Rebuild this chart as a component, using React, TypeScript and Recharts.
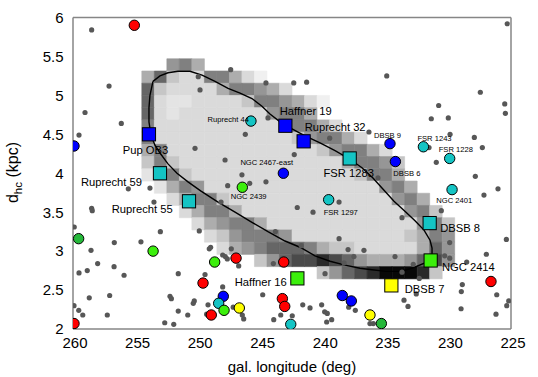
import React from 'react';
import { ScatterChart, Scatter, XAxis, YAxis, ReferenceArea, ReferenceLine } from 'recharts';

const xTicks = [260, 255, 250, 245, 240, 235, 230, 225];
const yTicks = [2, 2.5, 3, 3.5, 4, 4.5, 5, 5.5, 6];

// field stars [gal. longitude, d_hc]
const fieldStars: [number, number][] = [
  [258.51, 5.84], [257.12, 5.12], [259.04, 4.78], [256.14, 4.64], [259.52, 4.49],
  [247.4, 5.33], [249.99, 5.24], [249.85, 5.07], [244.58, 5.16], [244.42, 4.71],
  [246.23, 4.5], [250.25, 4.32], [247.85, 4.17], [246.5, 3.98], [247.64, 3.84],
  [245.88, 3.87], [244.58, 3.89], [255.58, 3.8], [253.85, 3.81], [225.3, 5.92],
  [234.93, 5.25], [242.36, 5.16], [241.33, 5.17], [227.45, 5.04], [230.78, 4.87],
  [225.5, 4.89], [225.45, 4.77], [231.37, 4.7], [230.01, 4.71], [236.35, 4.53],
  [239.49, 4.45], [227.93, 4.46], [227.29, 4.33], [231.55, 4.33], [229.87, 4.5],
  [230.97, 4.14], [242.32, 4.24], [227.85, 3.96], [226.04, 3.8], [235.63, 3.94],
  [258.51, 3.55], [258.46, 3.52], [259.9, 3.31], [253.02, 3.25], [249.91, 3.26],
  [248.17, 3.63], [256.7, 3.11], [254.57, 3.12], [258.56, 3.01], [249.11, 3.03],
  [249.0, 3.05], [247.35, 3.03], [258.03, 2.84], [256.72, 2.8], [258.86, 2.75],
  [259.52, 2.72], [255.92, 2.69], [251.59, 2.71], [249.45, 2.7], [248.04, 2.95],
  [247.83, 2.93], [247.67, 2.9], [248.04, 2.54], [252.25, 2.42], [252.14, 2.39],
  [257.07, 2.43], [258.7, 2.4], [250.31, 2.36], [250.39, 2.33], [259.92, 2.3],
  [259.54, 2.24], [259.22, 2.18], [257.26, 2.18], [251.59, 2.23], [250.83, 2.18],
  [249.21, 2.31], [247.2, 2.28], [249.32, 2.19], [246.36, 2.13], [246.47, 2.18],
  [252.67, 2.08], [251.95, 2.06], [244.84, 2.44], [227.16, 3.72], [230.57, 3.52],
  [225.37, 3.15], [226.97, 2.96], [229.9, 3.11], [228.54, 2.86], [229.9, 2.91],
  [230.3, 2.94], [238.74, 3.63], [240.82, 3.5], [242.08, 3.56], [233.71, 3.43],
  [238.74, 3.16], [238.02, 3.02], [236.75, 3.01], [237.55, 2.93], [234.27, 2.93],
  [243.83, 3.25], [241.76, 3.07], [239.86, 2.71], [233.71, 2.73], [232.33, 2.65],
  [228.89, 2.57], [228.97, 2.48], [226.14, 2.44], [232.57, 2.45], [233.55, 2.37],
  [233.23, 2.29], [225.18, 2.36], [225.34, 2.3], [228.99, 2.26], [226.2, 2.19],
  [241.64, 2.31], [241.06, 2.27], [240.13, 2.31], [239.89, 2.22], [239.68, 2.2],
  [237.97, 2.28], [237.44, 2.24], [239.33, 2.12], [239.73, 2.09], [242.48, 2.17],
  [243.4, 2.18], [243.96, 2.12], [236.27, 2.07], [236.0, 2.07], [253.53, 3.63],
  [246.76, 2.81], [243.99, 2.84], [238.34, 2.85], [232.81, 2.83],
];

type Cl = { lon: number; d: number; name?: string };

const redClusters: Cl[] = [
  { lon: 255.1, d: 5.9 }, { lon: 246.97, d: 2.91 }, { lon: 249.61, d: 2.59 },
  { lon: 248.95, d: 2.18 }, { lon: 259.92, d: 2.07 }, { lon: 243.16, d: 2.86 },
  { lon: 243.27, d: 2.39 }, { lon: 243.08, d: 2.29 }, { lon: 226.6, d: 2.61 },
];
const blueClusters: Cl[] = [
  { lon: 259.92, d: 4.35 }, { lon: 243.19, d: 4.0, name: 'NGC 2467-east' },
  { lon: 234.67, d: 4.38, name: 'DBSB 9' }, { lon: 234.24, d: 4.15, name: 'DBSB 6' },
  { lon: 247.99, d: 2.42 }, { lon: 238.48, d: 2.43 }, { lon: 237.76, d: 2.36 },
];
const cyanClusters: Cl[] = [
  { lon: 245.78, d: 4.67, name: 'Ruprecht 44' }, { lon: 239.57, d: 3.66, name: 'FSR 1297' },
  { lon: 232.0, d: 4.34, name: 'FSR 1243' }, { lon: 229.9, d: 4.19, name: 'FSR 1228' },
  { lon: 229.71, d: 3.79, name: 'NGC 2401' }, { lon: 248.36, d: 2.33 }, { lon: 242.6, d: 2.06 },
];
const limeClusters: Cl[] = [
  { lon: 246.47, d: 3.82, name: 'NGC 2439' }, { lon: 253.6, d: 3.0 },
  { lon: 248.68, d: 2.86 }, { lon: 247.93, d: 2.24 },
];
const greenClusters: Cl[] = [{ lon: 259.55, d: 3.16 }, { lon: 235.36, d: 2.07 }];
const yellowClusters: Cl[] = [{ lon: 246.71, d: 2.27 }, { lon: 236.27, d: 2.18 }];

const blueSquares: Cl[] = [
  { lon: 253.93, d: 4.5, name: 'Pup OB3' }, { lon: 243.03, d: 4.61, name: 'Haffner 19' },
  { lon: 241.57, d: 4.41, name: 'Ruprecht 32' },
];
const cyanSquares: Cl[] = [
  { lon: 253.05, d: 4.0, name: 'Ruprecht 59' }, { lon: 250.73, d: 3.64, name: 'Ruprecht 55' },
  { lon: 237.89, d: 4.19, name: 'FSR 1283' }, { lon: 231.5, d: 3.36, name: 'DBSB 8' },
];
const limeSquares: Cl[] = [
  { lon: 231.42, d: 2.88, name: 'NGC 2414' }, { lon: 242.07, d: 2.65, name: 'Haffner 16' },
];
const yellowSquares: Cl[] = [{ lon: 234.56, d: 2.56, name: 'DBSB 7' }];

// 2D density map: bin centres in longitude, bin rows in distance (top to bottom)
const heatLonCenters = [254, 253, 252, 251, 250, 249, 248, 247, 246, 245, 244, 243, 242, 241, 240, 239, 238, 237, 236, 235, 234, 233, 232, 231, 230];
const heatTopD = 5.47;
const heatStepD = 0.157;
const heatRows = [
  '..675....................',
  '5843377531...............',
  '843333577653.............',
  '832233334776531..........',
  '83233333336775...........',
  '7333333333367753.........',
  '733333333333467753.......',
  '57333333333333467753.....',
  '474333333333333357764....',
  '257433333333333334775....',
  '.257633333333333333675...',
  '..357743333333333333675..',
  '...357753333333333333674.',
  '....356775333333333333674',
  '.....34677763333333334576',
  '......3567888754433333586',
  '.........46899A9865556896',
  '..............4689ABBBA4.',
];
const heatGreys: Record<string, string> = {
  '1': '#f0f0f0', '2': '#e4e4e4', '3': '#dadada', '4': '#c6c6c6', '5': '#adadad',
  '6': '#969696', '7': '#808080', '8': '#666666', '9': '#4a4a4a', 'A': '#2a2a2a', 'B': '#080808',
};

// contour of the fitted region [lon, d]
const contour: [number, number][] = [
  [253.61, 5.18], [253.05, 5.25], [252.41, 5.29], [251.61, 5.31], [250.65, 5.31],
  [249.69, 5.26], [248.65, 5.18], [247.61, 5.09], [246.65, 5.03], [245.7, 4.96],
  [244.9, 4.86], [244.26, 4.76], [243.3, 4.64], [242.5, 4.57], [241.46, 4.48],
  [240.26, 4.39], [239.06, 4.29], [237.87, 4.18], [236.91, 4.07], [236.03, 3.94],
  [235.31, 3.81], [234.35, 3.64], [233.39, 3.5], [232.67, 3.39], [231.95, 3.27],
  [231.47, 3.14], [231.31, 3.04], [231.31, 2.95], [231.87, 2.85], [232.91, 2.78],
  [233.87, 2.74], [234.99, 2.74], [236.11, 2.76], [237.07, 2.78], [238.26, 2.82],
  [239.46, 2.87], [240.66, 2.94], [241.86, 3.05], [243.06, 3.13], [244.42, 3.25],
  [245.7, 3.37], [247.05, 3.5], [248.41, 3.63], [249.77, 3.77], [250.81, 3.89],
  [251.69, 4.0], [252.41, 4.12], [253.05, 4.26], [253.45, 4.36], [253.77, 4.49],
  [253.93, 4.66], [253.93, 4.84], [253.85, 5.0], [253.61, 5.18],
];

const labelPlacement: Record<string, { dx: number; dy: number; anchor: 'start' | 'middle' | 'end'; size: number }> = {
  'Pup OB3': { dx: -3.5, dy: 15.7, anchor: 'middle', size: 11.2 },
  'Ruprecht 59': { dx: -18, dy: 8.7, anchor: 'end', size: 11.2 },
  'Ruprecht 55': { dx: -16.3, dy: 7.4, anchor: 'end', size: 11.2 },
  'Haffner 19': { dx: -5.6, dy: -14.3, anchor: 'start', size: 11.2 },
  'Ruprecht 32': { dx: 1, dy: -14.3, anchor: 'start', size: 11.2 },
  'FSR 1283': { dx: -1, dy: 14.6, anchor: 'middle', size: 11.2 },
  'DBSB 8': { dx: 10.6, dy: 5, anchor: 'start', size: 11.2 },
  'NGC 2414': { dx: 11.3, dy: 6.3, anchor: 'start', size: 11.2 },
  'DBSB 7': { dx: 13.4, dy: 4, anchor: 'start', size: 11.2 },
  'Haffner 16': { dx: -10.6, dy: 3.7, anchor: 'end', size: 11.2 },
  'Ruprecht 44': { dx: -2, dy: -2, anchor: 'end', size: 7.6 },
  'NGC 2467-east': { dx: -16.6, dy: -11, anchor: 'middle', size: 7.6 },
  'NGC 2439': { dx: -11.6, dy: 9.7, anchor: 'start', size: 7.6 },
  'FSR 1297': { dx: -5, dy: 12.3, anchor: 'start', size: 7.6 },
  'DBSB 9': { dx: -16, dy: -8.3, anchor: 'start', size: 7.6 },
  'DBSB 6': { dx: -2, dy: 11.6, anchor: 'start', size: 7.6 },
  'FSR 1243': { dx: -6, dy: -8.4, anchor: 'start', size: 7.6 },
  'FSR 1228': { dx: -11, dy: -8.7, anchor: 'start', size: 7.6 },
  'NGC 2401': { dx: -15.7, dy: 11, anchor: 'start', size: 7.6 },
};

const FONT = '"Liberation Sans", Arial, Helvetica, sans-serif';
const FRAME = '#868686';

const toXY = (arr: Cl[]) => arr.map((c) => ({ x: c.lon, y: c.d, name: c.name }));

const heatCells: { x1: number; x2: number; y1: number; y2: number; fill: string }[] = [];
heatRows.forEach((row, r) => {
  row.split('').forEach((ch, c) => {
    if (ch === '.') return;
    const lon = heatLonCenters[c];
    heatCells.push({
      x1: lon + 0.5,
      x2: lon - 0.5,
      y1: heatTopD - (r + 1) * heatStepD,
      y2: heatTopD - r * heatStepD,
      fill: heatGreys[ch],
    });
  });
});

const circleShape = (color: string) => (p: any) => (
  <circle cx={p.cx} cy={p.cy} r={5.2} fill={color} stroke="#000" strokeWidth={1} />
);
const squareShape = (color: string) => (p: any) => (
  <rect x={p.cx - 6.6} y={p.cy - 6.6} width={13.2} height={13.2} fill={color} stroke="#000" strokeWidth={1} />
);
const dotShape = (p: any) => <circle cx={p.cx} cy={p.cy} r={2.6} fill="#575757" />;
const noShape = () => <g />;
const labelShape = (p: any) => {
  const name = p.payload?.name;
  const lp = labelPlacement[name];
  if (!lp) return <g />;
  return (
    <text
      x={p.cx + lp.dx}
      y={p.cy + lp.dy}
      textAnchor={lp.anchor}
      dominantBaseline="central"
      fontSize={lp.size}
      fontFamily={FONT}
      fill="#000"
    >
      {name}
    </text>
  );
};

const allNamed = [
  ...blueClusters, ...cyanClusters, ...limeClusters,
  ...blueSquares, ...cyanSquares, ...limeSquares, ...yellowSquares,
].filter((c) => c.name);

export default function App() {
  return (
    <div style={{ position: 'absolute', left: 0, top: 0, width: 538, height: 377, background: '#fff' }}>
      <ScatterChart width={538} height={377} margin={{ top: 17.5, right: 27, bottom: 18, left: 0 }}>
        <XAxis
          type="number"
          dataKey="x"
          domain={[225, 260]}
          reversed
          ticks={xTicks}
          allowDataOverflow
          height={30}
          tickLine={false}
          tickSize={6}
          tickMargin={2}
          axisLine={{ stroke: FRAME, strokeWidth: 1.5 }}
          tick={{ fontSize: 15, fill: '#000', fontFamily: FONT, dx: 2 }}
          label={{
            content: () => (
              <text x={292} y={372} textAnchor="middle" fontSize={15} fontFamily={FONT} fill="#000">
                gal. longitude (deg)
              </text>
            ),
          }}
        />
        <YAxis
          type="number"
          dataKey="y"
          domain={[2, 6]}
          ticks={yTicks}
          allowDataOverflow
          width={73}
          tickLine={false}
          tickSize={6}
          tickMargin={3.5}
          axisLine={{ stroke: FRAME, strokeWidth: 1.5 }}
          tick={{ fontSize: 15, fill: '#000', fontFamily: FONT }}
          label={{
            content: () => (
              <text
                x={17.5}
                y={172.5}
                transform="rotate(-90, 17.5, 172.5)"
                textAnchor="middle"
                fontSize={16}
                fontFamily={FONT}
                fill="#000"
              >
                d<tspan dy={4} fontSize={11.5}>hc</tspan>
                <tspan dy={-4}> (kpc)</tspan>
              </text>
            ),
          }}
        />
        {heatCells.map((c, i) => (
          <ReferenceArea
            key={'h' + i}
            x1={c.x1}
            x2={c.x2}
            y1={c.y1}
            y2={c.y2}
            fill={c.fill}
            fillOpacity={1}
            stroke={c.fill}
            strokeWidth={0.6}
            strokeOpacity={1}
          />
        ))}
        <ReferenceLine x={225} stroke={FRAME} strokeWidth={1.5} />
        <ReferenceLine y={6} stroke={FRAME} strokeWidth={1.5} />
        <Scatter
          data={contour.map(([x, y]) => ({ x, y }))}
          line={{ stroke: '#000', strokeWidth: 1.4 }}
          lineJointType="linear"
          shape={noShape}
          isAnimationActive={false}
        />
        <Scatter data={fieldStars.map(([x, y]) => ({ x, y }))} shape={dotShape} isAnimationActive={false} />
        <Scatter data={toXY(redClusters)} shape={circleShape('#ff0000')} isAnimationActive={false} />
        <Scatter data={toXY(blueClusters)} shape={circleShape('#0000ff')} isAnimationActive={false} />
        <Scatter data={toXY(cyanClusters)} shape={circleShape('#14c4c4')} isAnimationActive={false} />
        <Scatter data={toXY(limeClusters)} shape={circleShape('#3cef0c')} isAnimationActive={false} />
        <Scatter data={toXY(greenClusters)} shape={circleShape('#25b83a')} isAnimationActive={false} />
        <Scatter data={toXY(yellowClusters)} shape={circleShape('#ffff00')} isAnimationActive={false} />
        <Scatter data={toXY(blueSquares)} shape={squareShape('#0000ff')} isAnimationActive={false} />
        <Scatter data={toXY(cyanSquares)} shape={squareShape('#14c4c4')} isAnimationActive={false} />
        <Scatter data={toXY(limeSquares)} shape={squareShape('#3cef0c')} isAnimationActive={false} />
        <Scatter data={toXY(yellowSquares)} shape={squareShape('#ffff00')} isAnimationActive={false} />
        <Scatter data={toXY(allNamed)} shape={labelShape} isAnimationActive={false} />
      </ScatterChart>
    </div>
  );
}
